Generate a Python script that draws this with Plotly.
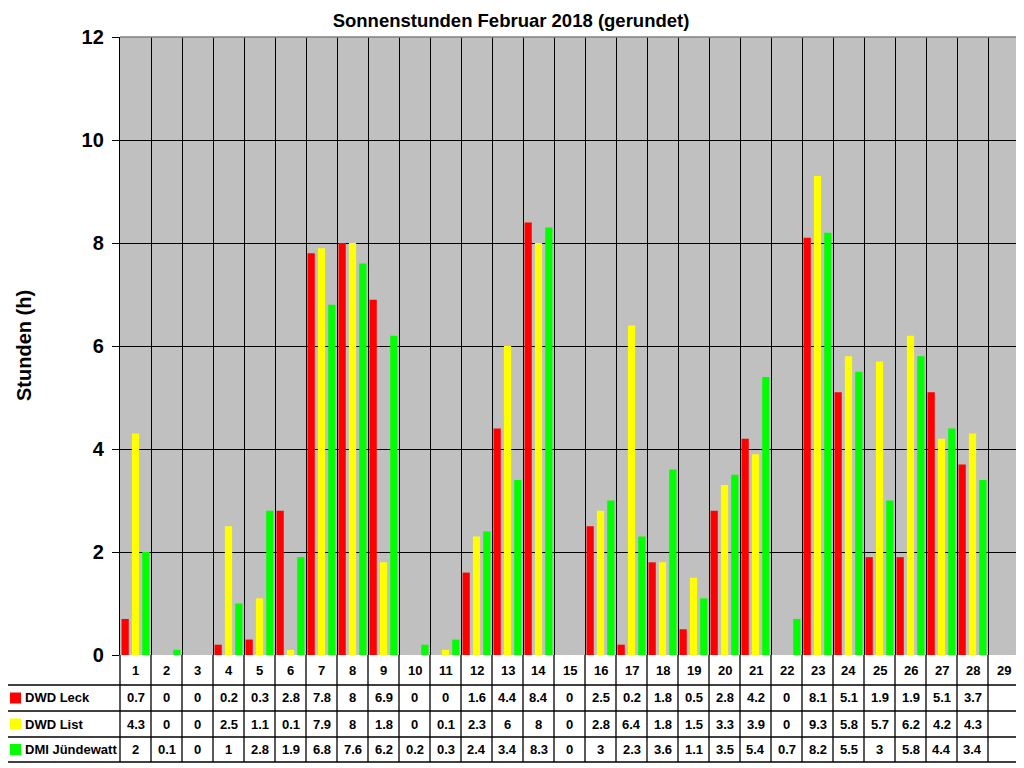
import plotly.graph_objects as go

days = list(range(1, 30))
series_names = ["DWD Leck", "DWD List", "DMI Jündewatt"]
series_colors = ["#FF0000", "#FFFF00", "#00FF00"]

dwd_leck = [0.7, 0, 0, 0.2, 0.3, 2.8, 7.8, 8, 6.9, 0, 0, 1.6, 4.4, 8.4, 0,
            2.5, 0.2, 1.8, 0.5, 2.8, 4.2, 0, 8.1, 5.1, 1.9, 1.9, 5.1, 3.7]
dwd_list = [4.3, 0, 0, 2.5, 1.1, 0.1, 7.9, 8, 1.8, 0, 0.1, 2.3, 6, 8, 0,
            2.8, 6.4, 1.8, 1.5, 3.3, 3.9, 0, 9.3, 5.8, 5.7, 6.2, 4.2, 4.3]
dmi_juendewatt = [2, 0.1, 0, 1, 2.8, 1.9, 6.8, 7.6, 6.2, 0.2, 0.3, 2.4, 3.4, 8.3, 0,
                  3, 2.3, 3.6, 1.1, 3.5, 5.4, 0.7, 8.2, 5.5, 3, 5.8, 4.4, 3.4]
series_values = [dwd_leck, dwd_list, dmi_juendewatt]

# page geometry in screen pixels; the page body adds an 8px offset
OFF = 8
W, H = 1024 - OFF, 768 - OFF
L, R, T, B = 120, 1019, 37, 655
table_left = 7
row_lines = [685, 711, 737, 762]
FONT = "Liberation Sans, Arial, sans-serif"


def px_x(x):
    return (x - L) / (R - L)


def px_y(y):
    return (B - y) / (B - T)


def bold(size):
    return dict(family=FONT, size=size, color="black", weight="bold")


fig = go.Figure()
for name, color, vals in zip(series_names, series_colors, series_values):
    fig.add_trace(go.Bar(x=days[:len(vals)], y=vals, name=name,
                         marker=dict(color=color, line=dict(width=0))))

shapes = []
ann = []
line_style = dict(color="black", width=1.3)

# plot frame: top and right grey
shapes.append(dict(type="line", xref="paper", yref="paper", x0=0, x1=1, y0=1, y1=1,
                   line=dict(color="#808080", width=1.5)))
shapes.append(dict(type="line", xref="paper", yref="paper", x0=1, x1=1, y0=0, y1=1,
                   line=dict(color="#808080", width=1.5)))

# table horizontal lines
for y in row_lines:
    shapes.append(dict(type="line", xref="paper", yref="paper",
                       x0=px_x(table_left), x1=1, y0=px_y(y), y1=px_y(y), line=line_style))
# table vertical lines
shapes.append(dict(type="line", xref="paper", yref="paper", x0=px_x(table_left), x1=px_x(table_left),
                   y0=px_y(row_lines[0]), y1=px_y(row_lines[-1]), line=line_style))
for k in range(len(days) + 1):
    xp = k / len(days)
    shapes.append(dict(type="line", xref="paper", yref="paper", x0=xp, x1=xp,
                       y0=0, y1=px_y(row_lines[-1]), line=line_style))

# day labels
for d in days:
    ann.append(dict(x=d, y=px_y(670), xref="x", yref="paper", text=str(d), showarrow=False,
                    xanchor="center", yanchor="middle", font=bold(13)))

# value rows with legend keys
for i, (name, color, vals) in enumerate(zip(series_names, series_colors, series_values)):
    yc = (row_lines[i] + row_lines[i + 1]) / 2
    shapes.append(dict(type="rect", xref="paper", yref="paper",
                       x0=px_x(10), x1=px_x(21), y0=px_y(yc - 5.5), y1=px_y(yc + 5.5),
                       fillcolor=color, line=dict(width=0)))
    ann.append(dict(x=px_x(23), y=px_y(yc), xref="paper", yref="paper", text=name,
                    xanchor="left", yanchor="middle", showarrow=False, font=bold(13)))
    for d, v in zip(days, vals):
        ann.append(dict(x=d, y=px_y(yc), xref="x", yref="paper", text=f"{v:g}", showarrow=False,
                        xanchor="center", yanchor="middle", font=bold(13)))

# y axis title
ann.append(dict(x=px_x(24), y=0.5, xref="paper", yref="paper", text="Stunden (h)",
                textangle=-90, showarrow=False, xanchor="center", yanchor="middle",
                font=bold(20)))

fig.update_layout(
    width=W, height=H,
    margin=dict(l=L - OFF, r=W - (R - OFF), t=T - OFF, b=H - (B - OFF), pad=0, autoexpand=False),
    paper_bgcolor="white",
    plot_bgcolor="#C0C0C0",
    barmode="group",
    bargap=0.0,
    bargroupgap=0.3,
    showlegend=False,
    title=dict(text="Sonnenstunden Februar 2018 (gerundet)", x=px_x(511), xref="paper",
               xanchor="center", y=1 - (21 - OFF) / H, yanchor="middle", automargin=False,
               font=bold(18.5)),
    shapes=shapes,
    annotations=ann,
)
fig.update_xaxes(range=[0.5, 29.5], tick0=0.5, dtick=1, showgrid=True, gridcolor="black",
                 gridwidth=1.3, showticklabels=False, ticks="", zeroline=False, showline=False,
                 automargin=False)
fig.update_yaxes(range=[0, 12], dtick=2, showgrid=True, gridcolor="black", gridwidth=1.3,
                 zeroline=False, showline=True, linecolor="black", linewidth=1.3,
                 ticks="outside", ticklen=7, tickcolor="black", tickwidth=1.3,
                 ticklabelstandoff=4, automargin=False, tickfont=bold(20))

fig.write_html("out.html")
